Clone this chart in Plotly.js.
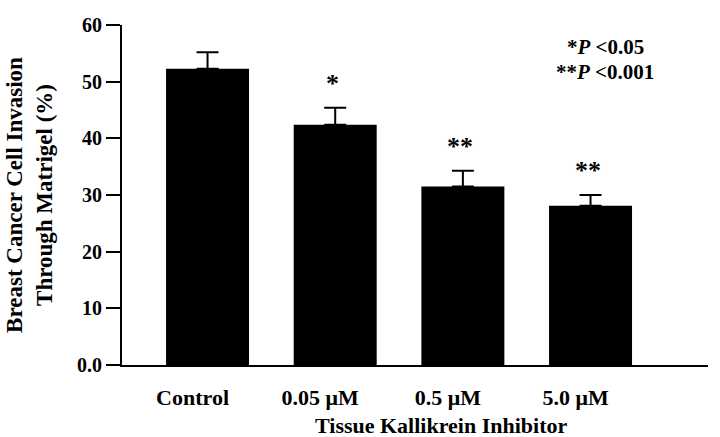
<!DOCTYPE html>
<html>
<head>
<meta charset="utf-8">
<script src="https://cdn.plot.ly/plotly-3.0.1.min.js"></script>
<style>html,body{margin:0;padding:0;background:#fff;}#chart{width:720px;height:437px;}</style>
</head>
<body>
<div id="chart"></div>
<script>
const categories = ["Control", "0.05 \u03bcM", "0.5 \u03bcM", "5.0 \u03bcM"];
const invasion = [52.3, 42.4, 31.5, 28.1];
const sem = [2.9, 3.0, 2.8, 1.9];
const significance = ["", "*", "**", "**"];
const yTickVals = [0, 10, 20, 30, 40, 50, 60];
const yTickText = ["0.0", "10", "20", "30", "40", "50", "60"];
const legendLines = ["*<i>P</i> &lt;0.05", "**<i>P</i> &lt;0.001"];

const FONT = "'Liberation Serif', 'Times New Roman', serif";

const trace = {
  type: "bar",
  x: categories,
  y: invasion,
  width: 0.65,
  marker: {color: "#000", line: {width: 0}},
  error_y: {type: "data", array: sem, symmetric: false, arrayminus: sem.map(() => 0), visible: true, color: "#000", thickness: 2, width: 11},
  hoverinfo: "none"
};

const annotations = [];
categories.forEach((c, i) => {
  if (significance[i]) {
    annotations.push({
      x: c, y: invasion[i] + sem[i], xref: "x", yref: "y",
      text: "<b>" + significance[i] + "</b>", showarrow: false,
      yanchor: "bottom", yshift: 8, xshift: -3,
      font: {family: FONT, size: 26, color: "#000"}
    });
  }
});
legendLines.forEach((t, i) => {
  annotations.push({
    x: 605, y: 47 + i * 25, xref: "paper", yref: "paper",
    text: "<b>" + t + "</b>", showarrow: false,
    xanchor: "center", yanchor: "middle",
    font: {family: FONT, size: 21, color: "#000"}
  });
});
const W = 720, H = 437, mL = 122, mR = 12, mT = 25, mB = 72;
annotations.forEach(a => {
  if (a.xref === "paper") {
    a.x = (a.x - mL) / (W - mL - mR);
    a.y = 1 - (a.y - mT) / (H - mT - mB);
  }
});
annotations.push({
  x: (441 - mL) / (W - mL - mR), y: 0, xref: "paper", yref: "paper",
  yshift: -60, text: "<b>Tissue Kallikrein Inhibitor</b>", showarrow: false,
  xanchor: "center", yanchor: "middle",
  font: {family: FONT, size: 22, color: "#000"}
});

const layout = {
  width: W, height: H,
  margin: {l: mL, r: mR, t: mT, b: mB},
  paper_bgcolor: "#fff", plot_bgcolor: "#fff",
  showlegend: false,
  font: {family: FONT, color: "#000"},
  xaxis: {
    type: "category",
    range: [-0.67, 3.92],
    showline: true, linecolor: "#000", linewidth: 2,
    ticks: "", showgrid: false, zeroline: false,
    tickfont: {family: FONT, size: 22, color: "#000", weight: "bold"},
    ticklabelstandoff: 12,
    ticklabelshift: -15,
    fixedrange: true
  },
  yaxis: {
    range: [0, 60],
    tickvals: yTickVals, ticktext: yTickText,
    showline: true, linecolor: "#000", linewidth: 2,
    ticks: "outside", ticklen: 14, tickwidth: 2, tickcolor: "#000",
    showgrid: false, zeroline: false,
    tickfont: {family: FONT, size: 20, color: "#000", weight: "bold"},
    title: {text: "<b>Breast Cancer Cell Invasion<br>Through Matrigel (%)</b>", font: {family: FONT, size: 23, color: "#000"}, standoff: 18},
    fixedrange: true
  },
  annotations: annotations
};

Plotly.newPlot("chart", [trace], layout, {displayModeBar: false, staticPlot: true});
</script>
</body>
</html>
